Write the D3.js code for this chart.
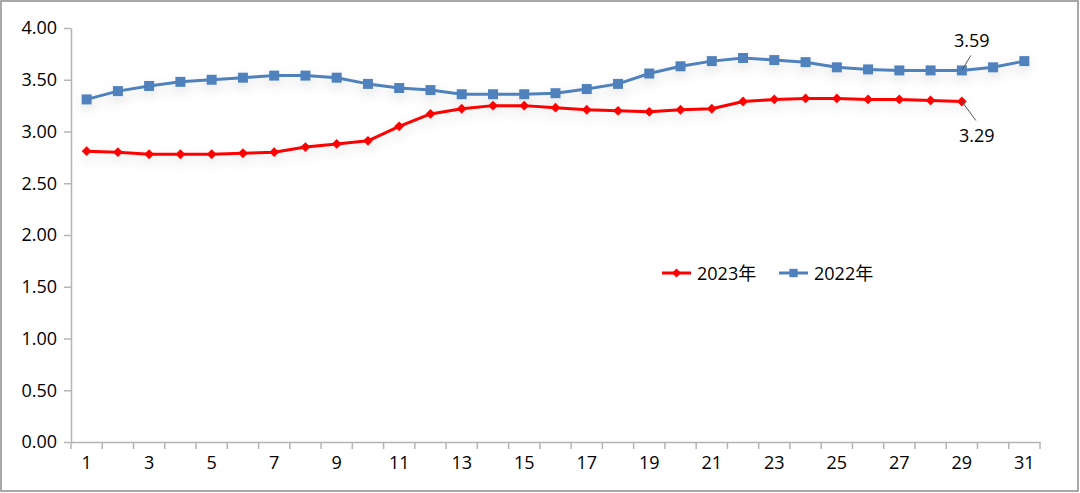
<!DOCTYPE html>
<html><head><meta charset="utf-8">
<script src="https://cdn.jsdelivr.net/npm/d3@7"></script>
<style>
html,body{margin:0;padding:0;background:#fff;}
svg text{font-family:"Open Sans","Noto Sans CJK SC",sans-serif;fill:#000;}
</style></head>
<body>
<svg id="chart" width="1080" height="493"></svg>
<script>
const days = d3.range(1, 32);
const xTickLabels = [1,3,5,7,9,11,13,15,17,19,21,23,25,27,29,31];
const yTicks = [0,0.5,1,1.5,2,2.5,3,3.5,4];
const series2023 = [2.81,2.80,2.78,2.78,2.78,2.79,2.80,2.85,2.88,2.91,3.05,3.17,3.22,3.25,3.25,3.23,3.21,3.20,3.19,3.21,3.22,3.29,3.31,3.32,3.32,3.31,3.31,3.30,3.29];
const series2022 = [3.31,3.39,3.44,3.48,3.50,3.52,3.54,3.54,3.52,3.46,3.42,3.40,3.36,3.36,3.36,3.37,3.41,3.46,3.56,3.63,3.68,3.71,3.69,3.67,3.62,3.60,3.59,3.59,3.59,3.62,3.68];
const legendNames = ["2023年","2022年"];

(function(){
const svg = d3.select("#chart");
const W = 1080, H = 493;
const mLeft = 71, mRight = 1040, mTop = 28, mBottom = 442;
const FS = "18px";

svg.append("rect").attr("x",1).attr("y",1).attr("width",W-3).attr("height",H-3)
  .attr("fill","#fff").attr("stroke","#8c8c8c").attr("stroke-width",1.5);

const defs = svg.append("defs");
const f = defs.append("filter").attr("id","sh").attr("x","-10%").attr("y","-50%").attr("width","120%").attr("height","200%");
f.append("feDropShadow").attr("dx",0).attr("dy",5).attr("stdDeviation",6).attr("flood-color","#000").attr("flood-opacity",0.12);

const x = d3.scaleBand().domain(days).range([mLeft, mRight]);
const y = d3.scaleLinear().domain([0,4]).range([mBottom, mTop]);
const cx = d => x(d) + x.bandwidth()/2;

const yAxis = d3.axisLeft(y).tickValues(yTicks).tickFormat(d3.format(".2f")).tickSize(7).tickPadding(7).tickSizeOuter(0);
const gy = svg.append("g").attr("transform",`translate(${mLeft},0)`).call(yAxis);
gy.select(".domain").attr("stroke","#b4b4b4").attr("stroke-width",1.5);
gy.selectAll(".tick line").attr("stroke","#b4b4b4").attr("stroke-width",1.5);
gy.selectAll(".tick text").style("font-size",FS).attr("fill","#000");

const xAxis = d3.axisBottom(x).tickValues(xTickLabels).tickSize(0).tickPadding(14).tickSizeOuter(0);
const gx = svg.append("g").attr("transform",`translate(0,${mBottom})`).call(xAxis);
gx.select(".domain").attr("stroke","#b4b4b4").attr("stroke-width",1.5);
gx.selectAll(".tick text").style("font-size",FS).attr("fill","#000");
const bounds = days.map(d => x(d)).concat([x(31)+x.bandwidth()]);
gx.selectAll("line.bt").data(bounds).enter().append("line").attr("class","bt")
  .attr("x1",d=>d).attr("x2",d=>d).attr("y1",0).attr("y2",7)
  .attr("stroke","#b4b4b4").attr("stroke-width",1.5);

const line = d3.line().x((d,i)=>cx(days[i])).y(d=>y(d));

function drawSeries(data, color, size, rot) {
  const g = svg.append("g").attr("filter","url(#sh)");
  g.append("path").datum(data).attr("d",line).attr("fill","none")
    .attr("stroke",color).attr("stroke-width",3).attr("stroke-linejoin","round");
  g.selectAll("path.m").data(data).enter().append("path").attr("class","m")
    .attr("d", d3.symbol().type(d3.symbolSquare).size(size)())
    .attr("transform",(d,i)=>`translate(${cx(days[i])},${y(d)}) rotate(${rot})`)
    .attr("fill",color);
}
drawSeries(series2022, "#4f81bd", 100, 0);
drawSeries(series2023, "#ff0000", 48, 45);

function annot(day, val, dx1, dy1, dx2, dy2, tx, ty) {
  const px = cx(day), py = y(val);
  svg.append("line").attr("x1",px+dx1).attr("y1",py+dy1).attr("x2",px+dx2).attr("y2",py+dy2)
    .attr("stroke","#555").attr("stroke-width",1);
  svg.append("text").attr("x",px+tx).attr("y",py+ty).attr("text-anchor","middle")
    .attr("dominant-baseline","central").style("font-size",FS).text(d3.format(".2f")(val));
}
annot(29, series2022[28], 0, 0, 9, -15, 10, -30);
annot(29, series2023[28], 0, 0, 14, 19, 15, 34);

const leg = svg.append("g");
const legItems = [
  {name:legendNames[0], color:"#ff0000", size:40, rot:45, x:662},
  {name:legendNames[1], color:"#4f81bd", size:70, rot:0, x:779}
];
legItems.forEach(it=>{
  leg.append("line").attr("x1",it.x).attr("x2",it.x+29).attr("y1",273).attr("y2",273)
    .attr("stroke",it.color).attr("stroke-width",3);
  leg.append("path").attr("d",d3.symbol().type(d3.symbolSquare).size(it.size)())
    .attr("transform",`translate(${it.x+14.5},273) rotate(${it.rot})`).attr("fill",it.color);
  leg.append("text").attr("x",it.x+35).attr("y",273).attr("dominant-baseline","central")
    .style("font-size",FS).text(it.name);
});
})();
</script>
</body></html>
